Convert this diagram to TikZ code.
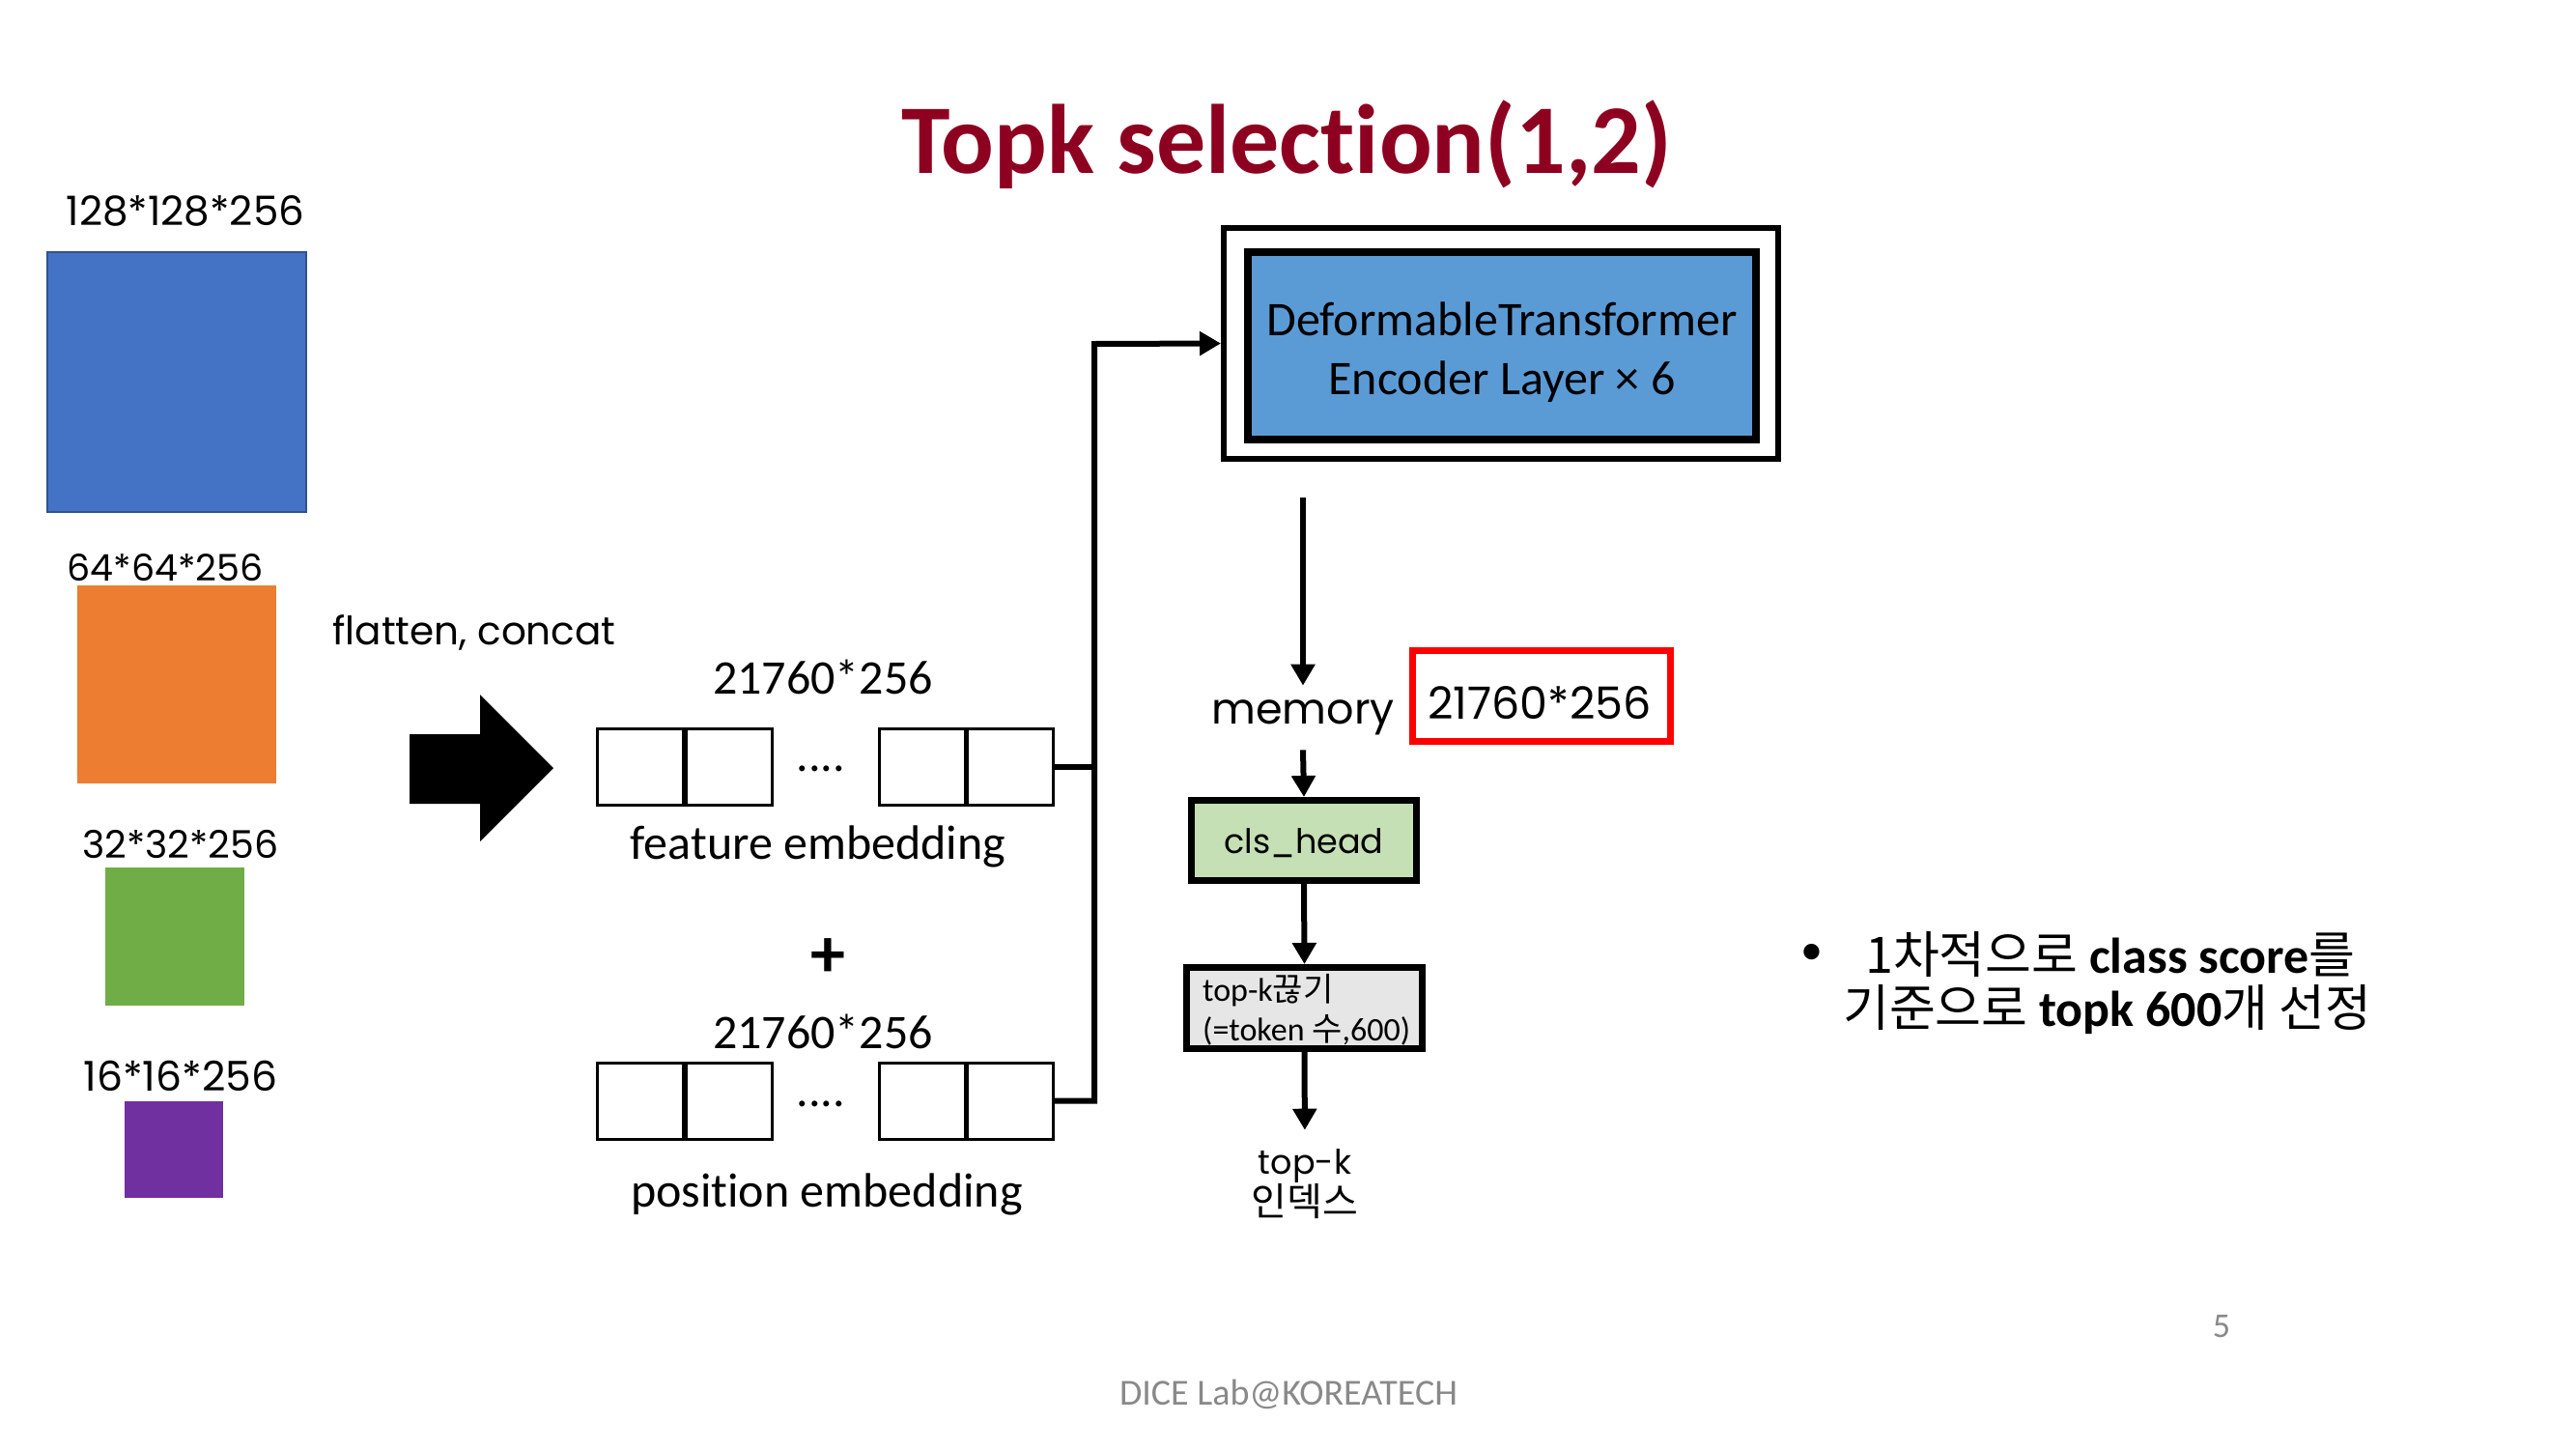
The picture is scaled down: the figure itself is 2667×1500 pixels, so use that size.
\documentclass[tikz,border=0pt]{standalone}
\usepackage{fontspec}
\setmainfont{Carlito}[Ligatures=CommonOff]
\newfontfamily\geo{Poppins}
\newfontfamily\kr{Noto Sans CJK KR}
\usetikzlibrary{arrows.meta}
\definecolor{titlered}{RGB}{142,0,32}
\definecolor{fblue}{RGB}{68,114,196}
\definecolor{fblueb}{RGB}{47,82,143}
\definecolor{forange}{RGB}{237,125,49}
\definecolor{fgreen}{RGB}{112,173,71}
\definecolor{fpurple}{RGB}{112,48,160}
\definecolor{encblue}{RGB}{91,155,213}
\definecolor{clsgreen}{RGB}{197,224,180}
\definecolor{topkgray}{RGB}{231,230,230}
\definecolor{footgray}{RGB}{137,137,137}
\begin{document}
\begin{tikzpicture}[x=1pt,y=-1pt,
  cell/.style={draw, line width=3pt, minimum width=89pt, minimum height=79pt, inner sep=0pt},
  arr/.style={line width=6pt, -{Triangle[length=22pt,width=24pt]}},
  conn/.style={line width=6pt},
  lbl/.style={inner sep=0pt, font=\fontsize{50}{61}\selectfont},
  glbl/.style={inner sep=0pt, font=\geo\fontsize{42}{50}\selectfont},
  fmap/.style={inner sep=0pt}]
\useasboundingbox (0,0) rectangle (2667,1500);
% title
\node[inner sep=0pt, text=titlered, font=\bfseries\fontsize{102}{120}\selectfont] (title) at (1332,150) {Topk selection(1,2)};
% feature maps
\node[glbl] (l1) at (192,218) {128*128*256};
\node[fmap, fill=fblue, draw=fblueb, line width=2pt, minimum width=268pt, minimum height=269pt] (m1) at (183,395.5) {};
\node[glbl, font=\geo\fontsize{38}{46}\selectfont] (l2) at (171,588) {64*64*256};
\node[fmap, fill=forange, minimum width=206pt, minimum height=205pt] (m2) at (183,708.5) {};
\node[glbl, font=\geo\fontsize{39.5}{46}\selectfont] (l3) at (187,874) {32*32*256};
\node[fmap, fill=fgreen, minimum width=144pt, minimum height=143pt] (m3) at (181,969.5) {};
\node[glbl, font=\geo\fontsize{42.5}{50}\selectfont] (l4) at (187,1114) {16*16*256};
\node[fmap, fill=fpurple, minimum width=102pt, minimum height=100pt] (m4) at (180,1190) {};
% flatten
\node[glbl, font=\geo\fontsize{40.5}{48}\selectfont] (flat) at (491,655) {flatten, concat};
\fill (424,760) -- (497,760) -- (497,719) -- (573,795) -- (497,871) -- (497,832) -- (424,832) -- cycle;
% feature embedding
\node[lbl] (fdim) at (852,701) {21760*256};
\node[cell] (fe1a) at (663,794) {};
\node[cell] (fe1b) at (755,794) {};
\node[cell] (fe2a) at (955,794) {};
\node[cell] (fe2b) at (1046,794) {};
\node[lbl] (fdots) at (850,796) {....};
\node[lbl] (flab) at (847,876) {feature embedding};
\node[inner sep=0pt, font=\bfseries\fontsize{72}{80}\selectfont] (plus) at (857,992) {+};
% position embedding
\node[lbl] (pdim) at (852,1068) {21760*256};
\node[cell] (pe1a) at (663,1139.5) {};
\node[cell] (pe1b) at (755,1139.5) {};
\node[cell] (pe2a) at (955,1139.5) {};
\node[cell] (pe2b) at (1046,1139.5) {};
\node[lbl] (pdots) at (850,1143) {....};
\node[lbl] (plab) at (856,1236) {position embedding};
% encoder
\node[draw, line width=6pt, minimum width=574pt, minimum height=239pt, inner sep=0pt] (encout) at (1554,355.5) {};
\node[draw, fill=encblue, line width=8pt, minimum width=526pt, minimum height=194pt, inner sep=0pt] (enc) at (1555,358) {};
\node[inner sep=0pt, align=center, font=\fontsize{50}{61}\selectfont] (enctxt) at (1555,365) {DeformableTransformer\\Encoder Layer × 6};
\coordinate (jn) at (1133,356);
\draw[conn] (fe2b.east) -- (fe2b.east -| jn);
\draw[arr] (pe2b.east) -| (jn) -- (encout.west);
% memory chain
\coordinate (encbot) at (1349,515);
\node[glbl, inner ysep=15pt, font=\geo\fontsize{44.5}{52}\selectfont] (mem) at (1349,743) {memory};
\node[draw=red, line width=7pt, minimum width=267pt, minimum height=94pt, inner sep=0pt] (rbox) at (1596,720.5) {};
\node[inner sep=0pt, font=\geo\fontsize{46}{54}\selectfont] (rtxt) at (1594,728) {21760*256};
\node[draw, fill=clsgreen, line width=7pt, minimum width=233pt, minimum height=83pt, inner sep=0pt] (cls) at (1350,870) {};
\node[inner sep=0pt, font=\geo\fontsize{35}{40}\selectfont] (clstxt) at (1350,873) {cls\_head};
\node[draw, fill=topkgray, line width=7pt, minimum width=244pt, minimum height=84pt, inner sep=0pt] (topk) at (1350.5,1043.5) {};
\node[anchor=west, inner sep=0pt, align=left, font=\fontsize{34}{41}\selectfont] (topktxt) at (1245,1045) {top-k{\kr 끊기}\\(=token {\kr 수},600)};
\node[inner sep=0pt, align=center, font=\geo\fontsize{35}{41}\selectfont] (idx) at (1351,1226) {top-k\\{\kr\fontsize{40}{41}\selectfont 인덱스}};
\draw[arr] (encbot) -- (mem.north);
\draw[arr] (mem.south) -- (cls.north);
\draw[arr] (cls.south) -- (topk.north);
\draw[arr, shorten >=20pt] (topk.south) -- (idx.north);
% bullet
\node[inner sep=0pt, font=\fontsize{46}{60}\selectfont] (bul) at (1876,988) {•};
\node[anchor=west, inner sep=0pt, font=\fontsize{52}{60}\selectfont] (b1) at (1931,988) {{\kr 1차적으로} \textbf{class score}{\kr 를}};
\node[anchor=west, inner sep=0pt, font=\fontsize{52}{60}\selectfont] (b2) at (1908,1045) {{\kr 기준으로} \textbf{topk 600}{\kr 개 선정}};
% footer
\node[inner sep=0pt, text=footgray, font=\fontsize{36}{40}\selectfont] (pg) at (2300,1373) {5};
\node[inner sep=0pt, text=footgray, font=\fontsize{38}{44}\selectfont] (foot) at (1334,1443) {DICE Lab@KOREATECH};
\end{tikzpicture}
\end{document}
